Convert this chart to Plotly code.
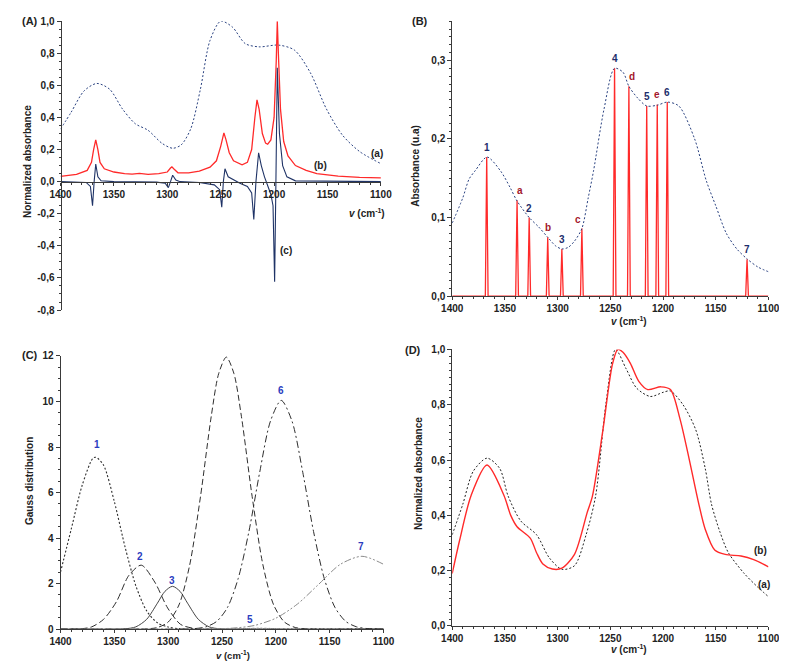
import plotly.graph_objects as go

# ---------------- DATA ----------------
X_TICKS = [1400, 1350, 1300, 1250, 1200, 1150, 1100]
X_TICK_TEXT = ["1400", "1350", "1300", "1250", "1200", "1150", "1100"]

# Panel A
A_Y_TICKS = [-0.8, -0.6, -0.4, -0.2, 0.0, 0.2, 0.4, 0.6, 0.8, 1.0]
A_Y_TEXT = ["-0,8", "-0,6", "-0,4", "-0,2", "0,0", "0,2", "0,4", "0,6", "0,8", "1,0"]
A_a_x = [1400, 1390, 1378, 1366, 1354, 1342, 1330, 1318, 1305, 1295, 1287, 1278, 1269, 1260, 1250,
         1239, 1227, 1214, 1196, 1181, 1166, 1151, 1136, 1120, 1100]
A_a_y = [0.327, 0.433, 0.565, 0.612, 0.576, 0.453, 0.361, 0.32, 0.239, 0.208, 0.229, 0.33, 0.576, 0.88, 1.0,
         0.963, 0.86, 0.84, 0.851, 0.82, 0.678, 0.453, 0.29, 0.188, 0.112]
A_b_x = [1400, 1385, 1375, 1371, 1369, 1367, 1365, 1363, 1359, 1350, 1340, 1333, 1326, 1318, 1308, 1300,
         1297, 1295.7, 1294, 1290, 1280, 1270, 1260, 1254, 1250, 1247, 1245, 1242, 1238, 1230, 1225, 1221,
         1218, 1216, 1214, 1211, 1208, 1206, 1203, 1200, 1198, 1197, 1196, 1194, 1191, 1187, 1180, 1170,
         1160, 1140, 1120, 1100]
A_b_y = [0.033, 0.045, 0.07, 0.12, 0.2, 0.26, 0.2, 0.12, 0.08, 0.06, 0.05, 0.047, 0.051, 0.045, 0.05, 0.06,
         0.085, 0.092, 0.08, 0.055, 0.055, 0.065, 0.09, 0.13, 0.22, 0.304, 0.26, 0.18, 0.13, 0.105, 0.12, 0.2,
         0.4, 0.51, 0.45, 0.3, 0.24, 0.233, 0.26, 0.4, 0.75, 1.0, 0.8, 0.45, 0.25, 0.16, 0.1, 0.07,
         0.05, 0.035, 0.027, 0.024]
A_c_x = [1400, 1376, 1372, 1370, 1368.5, 1367, 1365, 1362, 1350, 1310, 1302, 1299, 1297, 1295, 1292, 1288,
         1270, 1256, 1251, 1249, 1247.5, 1246, 1243, 1238, 1232, 1225, 1221, 1219, 1217, 1214.5, 1212, 1209,
         1206, 1203, 1201, 1199.5, 1198.3, 1197, 1195, 1192, 1188, 1180, 1100]
A_c_y = [0, -0.005, -0.03, -0.15, 0, 0.11, 0.03, 0.005, 0, -0.003, -0.01, -0.037, 0, 0.04, 0.01, 0,
         -0.005, -0.02, -0.05, -0.159, 0, 0.08, 0.03, 0.01, -0.01, -0.03, -0.07, -0.236, 0, 0.18, 0.1, 0.03,
         -0.03, -0.08, -0.15, -0.624, 0, 0.71, 0.3, 0.1, 0.03, 0.005, 0]

# Panel B
B_Y_TICKS = [0.0, 0.1, 0.2, 0.3]
B_Y_TEXT = ["0,0", "0,1", "0,2", "0,3"]
B_curve_x = [1400, 1390, 1384, 1378, 1367, 1354, 1345, 1338.5, 1327, 1318, 1309.5, 1302, 1296, 1290, 1284,
             1277, 1271, 1266, 1256, 1246, 1238, 1232.4, 1224, 1215.5, 1205.5, 1196, 1185, 1170, 1159, 1150,
             1140, 1130, 1120, 1110, 1100]
B_curve_y = [0.093, 0.125, 0.149, 0.16, 0.177, 0.159, 0.138, 0.121, 0.1, 0.088, 0.075, 0.064, 0.06, 0.062, 0.07,
             0.086, 0.125, 0.159, 0.238, 0.29, 0.285, 0.267, 0.252, 0.242, 0.243, 0.247, 0.242, 0.2, 0.147, 0.115,
             0.08, 0.06, 0.047, 0.037, 0.031]
B_stick_pos = [1367.3, 1338.5, 1327, 1309.4, 1296, 1277, 1246, 1232.4, 1215.5, 1205.5, 1196, 1120.3]
B_stick_h = [0.177, 0.122, 0.1, 0.075, 0.06, 0.086, 0.29, 0.267, 0.242, 0.244, 0.247, 0.047]
B_stick_lab = ["1", "a", "2", "b", "3", "c", "4", "d", "5", "e", "6", "7"]

# Panel C
C_Y_TICKS = [0, 2, 4, 6, 8, 10, 12]
C_Y_TEXT = ["0", "2", "4", "6", "8", "10", "12"]
C1_x = [1400, 1390, 1380, 1370, 1367, 1360, 1350, 1340, 1330, 1320, 1310, 1300, 1290, 1280, 1260, 1100]
C1_y = [2.5, 4.4, 6.3, 7.5, 7.55, 7.2, 5.6, 3.6, 1.9, 0.8, 0.28, 0.09, 0.02, 0.0, 0.0, 0.0]
C2_x = [1400, 1380, 1371, 1360, 1348, 1336.5, 1325, 1312.5, 1300.5, 1288.5, 1278, 1265, 1100]
C2_y = [0.0, 0.02, 0.1, 0.43, 1.21, 2.36, 2.81, 2.07, 0.93, 0.21, 0.05, 0.0, 0.0]
C3_x = [1400, 1350, 1340, 1330, 1320, 1310, 1303, 1296, 1289, 1282, 1272, 1262, 1252, 1240, 1100]
C3_y = [0.0, 0.0, 0.014, 0.1, 0.43, 1.14, 1.66, 1.88, 1.66, 1.14, 0.43, 0.1, 0.014, 0.0, 0.0]
C4_x = [1400, 1320, 1310, 1300, 1290, 1280, 1270, 1260, 1253, 1246, 1239, 1232, 1222, 1212, 1202, 1192,
        1182, 1172, 1100]
C4_y = [0.0, 0.013, 0.071, 0.31, 1.06, 2.82, 5.82, 9.35, 11.24, 11.95, 11.24, 9.35, 5.82, 2.82, 1.06, 0.31,
        0.071, 0.013, 0.0]
C5_x = [1400, 1250, 1235, 1225, 1215, 1205, 1195, 1180, 1100]
C5_y = [0.0, 0.0, 0.01, 0.03, 0.04, 0.03, 0.01, 0.0, 0.0]
C6_x = [1400, 1290, 1275, 1265, 1255, 1245, 1235, 1225, 1215, 1205, 1195, 1185, 1175, 1165, 1155, 1145,
        1135, 1125, 1115, 1100]
C6_y = [0.0, 0.0, 0.024, 0.1, 0.336, 0.946, 2.22, 4.29, 6.89, 9.14, 10.05, 9.14, 6.89, 4.29, 2.22, 0.946,
        0.336, 0.1, 0.024, 0.0]
C7_x = [1400, 1280, 1260, 1240, 1220, 1200, 1180, 1160, 1140, 1120, 1100]
C7_y = [0.0, 0.0, 0.01, 0.044, 0.16, 0.48, 1.1, 1.98, 2.85, 3.2, 2.85]
C_lab = ["1", "2", "3", "4", "5", "6", "7"]
C_lab_x = [1366, 1326.5, 1296, 1247, 1224, 1195, 1121]
C_lab_y = [8.1, 3.2, 2.14, 12.3, 0.43, 10.5, 3.64]

# Panel D
D_Y_TICKS = [0.0, 0.2, 0.4, 0.6, 0.8, 1.0]
D_Y_TEXT = ["0,0", "0,2", "0,4", "0,6", "0,8", "1,0"]
D_a_x = [1400, 1390, 1380, 1367, 1355, 1347, 1335, 1320, 1308, 1296, 1284, 1273, 1264, 1254, 1245, 1235,
         1225, 1212, 1200, 1193, 1181, 1169, 1160, 1154, 1146, 1138, 1123, 1110, 1100]
D_a_y = [0.33, 0.44, 0.56, 0.607, 0.57, 0.47, 0.38, 0.33, 0.247, 0.205, 0.218, 0.33, 0.47, 0.81, 1.0, 0.93,
         0.86, 0.83, 0.845, 0.85, 0.8, 0.71, 0.57, 0.44, 0.34, 0.265, 0.19, 0.14, 0.106]
D_b_x = [1400, 1393, 1382, 1367, 1351, 1344.5, 1338.5, 1326, 1320, 1314, 1305, 1296, 1284, 1272, 1267, 1257,
         1248, 1243, 1238, 1231, 1223, 1214.5, 1202, 1193, 1184, 1175, 1166, 1160, 1151, 1141, 1126, 1114, 1100]
D_b_y = [0.19, 0.31, 0.473, 0.582, 0.473, 0.4, 0.359, 0.318, 0.265, 0.224, 0.206, 0.209, 0.259, 0.41, 0.47,
         0.71, 0.947, 1.0, 0.99, 0.95, 0.885, 0.855, 0.865, 0.855, 0.75, 0.6, 0.44, 0.35, 0.275, 0.259, 0.253,
         0.24, 0.214]

# ---------------- STYLE ----------------
W, H = 787, 661
FONT = "Liberation Sans, Arial, sans-serif"
RED = "#ff2a2a"
NAVY = "#2a4280"
AX = "#3a3a3a"
DOT = "2px,2px"


def PX(x):
    return x / W


def PY(y):
    return 1 - y / H


fig = go.Figure()


def line(x, y, xa, ya, color, width=1.2, dash="solid", shape="spline", smoothing=0.8):
    fig.add_trace(go.Scatter(x=x, y=y, xaxis=xa, yaxis=ya, mode="lines",
                             line=dict(color=color, width=width, dash=dash, shape=shape,
                                       smoothing=smoothing if shape == "spline" else None),
                             showlegend=False, hoverinfo="skip"))


# Panel A
line(A_a_x, A_a_y, "x", "y", NAVY, 1.0, DOT)
line(A_b_x, A_b_y, "x", "y", RED, 1.3, "solid", "linear")
line(A_c_x, A_c_y, "x", "y", "#1f3366", 1.1, "solid", "linear")

# Panel B: stick spectrum built from positions and heights
HALF = 1.3
bx, by = [1400], [0]
for p, h in sorted(zip(B_stick_pos, B_stick_h), key=lambda t: -t[0]):
    bx += [p + HALF, p, p - HALF]
    by += [0, h, 0]
bx.append(1100)
by.append(0)
line(bx, by, "x2", "y2", RED, 1.3, "solid", "linear")
line(B_curve_x, B_curve_y, "x2", "y2", NAVY, 1.0, DOT)

# Panel C
CG = "#2e2e2e"
line(C1_x, C1_y, "x3", "y3", CG, 1.1, DOT)
line(C2_x, C2_y, "x3", "y3", CG, 1.0, "7px,3px")
line(C3_x, C3_y, "x3", "y3", "#444444", 1.0, "solid")
line(C4_x, C4_y, "x3", "y3", CG, 1.0, "6px,3px")
line(C5_x, C5_y, "x3", "y3", "#777777", 1.0, DOT)
line(C6_x, C6_y, "x3", "y3", CG, 1.0, "7px,3px,2px,3px")
line(C7_x, C7_y, "x3", "y3", "#8a8a8a", 1.0, "7px,2px,2px,2px,2px,2px")

# Panel D
line(D_a_x, D_a_y, "x4", "y4", "#222222", 1.0, DOT)
line(D_b_x, D_b_y, "x4", "y4", RED, 1.4, "solid")

tickfont = dict(family=FONT, size=10, color="#222222", weight="bold")


def xax(dom, **kw):
    d = dict(domain=dom, range=[1400, 1100], showline=True, linecolor=AX, linewidth=1,
             ticks="outside", ticklen=3, tickcolor=AX, tickwidth=1,
             tickvals=X_TICKS, ticktext=X_TICK_TEXT, tickfont=tickfont,
             minor=dict(dtick=10, ticks="outside", ticklen=2, tickcolor=AX, showgrid=False),
             showgrid=False, zeroline=False, fixedrange=True)
    d.update(kw)
    return d


def yax(dom, rng, vals, text, minor, **kw):
    d = dict(domain=dom, range=rng, showline=True, linecolor=AX, linewidth=1,
             ticks="outside", ticklen=4, tickcolor=AX, tickwidth=1,
             tickvals=vals, ticktext=text, tickfont=tickfont,
             minor=dict(dtick=minor, ticks="outside", ticklen=2, tickcolor=AX, showgrid=False),
             showgrid=False, zeroline=False, fixedrange=True)
    d.update(kw)
    return d


fig.update_layout(
    width=W, height=H, margin=dict(l=0, r=0, t=0, b=0),
    paper_bgcolor="white", plot_bgcolor="white",
    font=dict(family=FONT, size=10, color="#222222"),
    xaxis=xax([PX(42.7), PX(372.3)], anchor="free", position=PY(170.7)),
    yaxis=yax([PY(301.5), PY(7.3)], [-0.8, 1.0], A_Y_TICKS, A_Y_TEXT, 0.05, anchor="free", position=PX(42.7)),
    xaxis2=xax([PX(445.7), PX(771)], anchor="y2"),
    yaxis2=yax([PY(287.3), PY(7.3)], [0, 0.35], B_Y_TICKS, B_Y_TEXT, 0.01, anchor="x2"),
    xaxis3=xax([PX(42.7), PX(375)], anchor="y3"),
    yaxis3=yax([PY(626.5), PY(348.3)], [0, 12], C_Y_TICKS, C_Y_TEXT, 0.5, anchor="x3"),
    xaxis4=xax([PX(445.7), PX(771)], anchor="y4"),
    yaxis4=yax([PY(623.3), PY(341.7)], [0, 1.0], D_Y_TICKS, D_Y_TEXT, 0.025, anchor="x4"),
)

ann = []
TF = dict(family=FONT, size=10, color="#222222")
XT = "<b><i>v</i> (cm<sup>-1</sup>)</b>"


def paper_text(text, x, y, angle=0, size=10, xanchor="center", color="#222222"):
    ann.append(dict(text=text, x=PX(x), y=PY(y), xref="paper", yref="paper", showarrow=False,
                    textangle=angle, xanchor=xanchor, yanchor="middle",
                    font=dict(family=FONT, size=size, color=color)))


# panel letters
paper_text("<b>(A)</b>", 1, 7, size=11, xanchor="left")
paper_text("<b>(B)</b>", 402, 7, size=11, xanchor="left")
paper_text("<b>(C)</b>", 1, 347, size=11, xanchor="left")
paper_text("<b>(D)</b>", 395, 342, size=11, xanchor="left")

# axis titles
paper_text("<b>Normalized absorbance</b>", 9, 150, angle=-90)
paper_text("<b>Absorbance (u.a)</b>", 408, 155, angle=-90)
paper_text("<b>Gauss distribution</b>", 11, 476, angle=-90)
paper_text("<b>Normalized absorbance</b>", 411, 468, angle=-90)
paper_text(XT, 358, 203)
paper_text(XT, 628, 313)
paper_text(XT, 220, 653, size=9.5)
paper_text(XT, 628, 647)

# curve labels, panel A
for t, x, y in [("(a)", 1104, 0.177), ("(b)", 1157, 0.10), ("(c)", 1189, -0.43)]:
    ann.append(dict(text="<b>%s</b>" % t, x=x, y=y, xref="x", yref="y", showarrow=False, font=TF))

# panel B labels
XSHIFT = {"a": 3, "c": -4, "d": 3}
for p, h, lab in zip(B_stick_pos, B_stick_h, B_stick_lab):
    col = "#1d2d6b" if lab.isdigit() else "#a3162b"
    ann.append(dict(text="<b>%s</b>" % lab, x=p, y=h, xref="x2", yref="y2", showarrow=False,
                    yanchor="bottom", yshift=2, xshift=XSHIFT.get(lab, 0),
                    font=dict(family=FONT, size=10, color=col)))

# panel C labels
for lab, x, y in zip(C_lab, C_lab_x, C_lab_y):
    ann.append(dict(text="<b>%s</b>" % lab, x=x, y=y, xref="x3", yref="y3", showarrow=False,
                    font=dict(family=FONT, size=10, color="#2a3cc0")))

# panel D labels
for t, x, y in [("(b)", 1108, 0.272), ("(a)", 1104, 0.151)]:
    ann.append(dict(text="<b>%s</b>" % t, x=x, y=y, xref="x4", yref="y4", showarrow=False, font=TF))

fig.update_layout(annotations=ann)
fig.write_html("out.html")
